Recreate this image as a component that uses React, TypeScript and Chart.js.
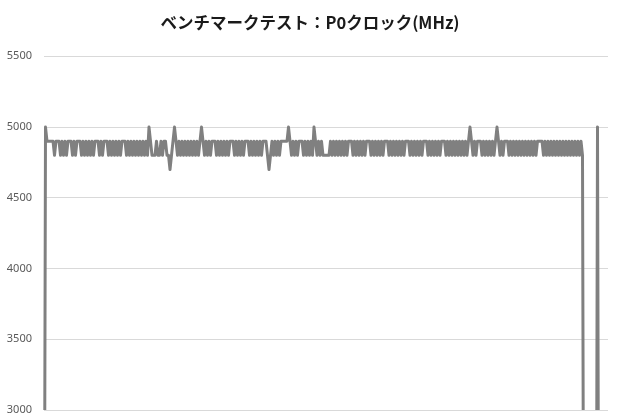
import React, { useEffect, useRef } from "react";
import { Chart, registerables } from "chart.js";

Chart.register(...registerables);

const TITLE = "ベンチマークテスト：P0クロック(MHz)";

// P0 clock samples (MHz); readings below 3000 are idle values clipped by the axis
const clockMHz: number[] = [
  800, 5000, 4900, 4900, 4900, 4900, 4900, 4800, 4900, 4900, 4900, 4800, 4900, 4800, 4900, 4800, 4900, 4900, 4900, 4800,
  4900, 4800, 4900, 4900, 4900, 4800, 4900, 4800, 4900, 4800, 4900, 4800, 4900, 4800, 4900, 4900, 4900, 4800, 4900, 4800,
  4900, 4900, 4900, 4800, 4900, 4800, 4900, 4800, 4900, 4800, 4900, 4800, 4900, 4900, 4900, 4800, 4900, 4800, 4900, 4800,
  4900, 4800, 4900, 4800, 4900, 4800, 4900, 4800, 4900, 4800, 5000, 4900, 4800, 4800, 4800, 4900, 4800, 4800, 4900, 4800,
  4900, 4900, 4800, 4800, 4700, 4800, 4900, 5000, 4900, 4800, 4900, 4800, 4900, 4800, 4900, 4800, 4900, 4800, 4900, 4800,
  4900, 4800, 4900, 4800, 4900, 5000, 4900, 4800, 4900, 4800, 4900, 4800, 4900, 4900, 4900, 4800, 4900, 4800, 4900, 4800,
  4900, 4800, 4900, 4800, 4900, 4900, 4900, 4800, 4900, 4800, 4900, 4800, 4900, 4800, 4900, 4900, 4900, 4800, 4900, 4800,
  4900, 4800, 4900, 4800, 4900, 4800, 4900, 4900, 4900, 4800, 4700, 4800, 4900, 4800, 4900, 4800, 4900, 4800, 4900, 4900,
  4900, 4900, 4900, 5000, 4900, 4800, 4900, 4800, 4900, 4800, 4900, 4900, 4900, 4800, 4900, 4800, 4900, 4800, 4900, 4800,
  5000, 4900, 4800, 4900, 4800, 4900, 4800, 4800, 4800, 4800, 4800, 4900, 4800, 4900, 4800, 4900, 4800, 4900, 4800, 4900,
  4800, 4900, 4800, 4900, 4900, 4900, 4800, 4900, 4800, 4900, 4800, 4900, 4800, 4900, 4800, 4900, 4900, 4900, 4800, 4900,
  4800, 4900, 4800, 4900, 4800, 4900, 4800, 4900, 4900, 4900, 4800, 4900, 4800, 4900, 4800, 4900, 4800, 4900, 4800, 4900,
  4800, 4900, 4900, 4900, 4800, 4900, 4800, 4900, 4800, 4900, 4800, 4900, 4800, 4900, 4900, 4900, 4800, 4900, 4800, 4900,
  4800, 4900, 4800, 4900, 4800, 4900, 4900, 4900, 4800, 4900, 4800, 4900, 4800, 4900, 4800, 4900, 4800, 4900, 4800, 4900,
  4800, 4900, 4800, 4900, 5000, 4900, 4800, 4900, 4800, 4900, 4900, 4900, 4800, 4900, 4800, 4900, 4800, 4900, 4800, 4900,
  4800, 4900, 5000, 4900, 4800, 4900, 4800, 4900, 4900, 4900, 4800, 4900, 4800, 4900, 4800, 4900, 4800, 4900, 4800, 4900,
  4800, 4900, 4800, 4900, 4800, 4900, 4800, 4900, 4800, 4900, 4900, 4900, 4900, 4800, 4900, 4800, 4900, 4800, 4900, 4800,
  4900, 4800, 4900, 4800, 4900, 4800, 4900, 4800, 4900, 4800, 4900, 4800, 4900, 4800, 4900, 4800, 4900, 4800, 4900, 4800,
  800, 800, 800, 800, 800, 800, 800, 800, 800, 5000, 800, 800, 800, 800, 800, 800, 800,
];

const sampleLabels: string[] = clockMHz.map((_, i) => String(i + 1));

const Y_MIN = 3000;
const Y_MAX = 5500;
const Y_STEP = 500;

export default function App() {
  const canvasRef = useRef<HTMLCanvasElement | null>(null);

  useEffect(() => {
    if (!canvasRef.current) return;
    const chart = new Chart(canvasRef.current, {
      type: "line",
      data: {
        labels: sampleLabels,
        datasets: [
          {
            label: "P0",
            data: clockMHz,
            yAxisID: "y",
            borderColor: "#808080",
            backgroundColor: "#808080",
            borderWidth: 3,
            borderJoinStyle: "round",
            borderCapStyle: "round",
            pointRadius: 0,
            tension: 0,
            fill: false,
          },
        ],
      },
      options: {
        animation: false,
        responsive: false,
        layout: { padding: { left: 0, right: 0, top: 0, bottom: 10 } },
        plugins: {
          legend: { display: false },
          tooltip: { enabled: false },
          title: {
            display: true,
            text: TITLE,
            color: "#1a1a1a",
            font: { family: "'Noto Sans CJK JP', 'Noto Sans', sans-serif", size: 16.5, weight: "bold" },
            padding: { top: 13, bottom: 23.5 },
          },
        },
        scales: {
          x: { display: false, offset: false },
          y: {
            min: Y_MIN,
            max: Y_MAX,
            border: { display: false },
            grid: { color: "#d9d9d9", lineWidth: 1, drawTicks: false },
            ticks: {
              stepSize: Y_STEP,
              padding: 12,
              color: "#595959",
              font: { family: "'Noto Sans', sans-serif", size: 11 },
              callback: (v: any) => String(v),
            },
            afterFit: (scale: any) => {
              scale.width = 44;
              scale.paddingTop = 0;
              scale.paddingBottom = 0;
            },
          },
          yRight: {
            position: "right",
            display: true,
            border: { display: false },
            grid: { display: false, drawOnChartArea: false, drawTicks: false },
            ticks: { display: false },
            afterFit: (scale: any) => {
              scale.width = 12;
              scale.paddingTop = 0;
              scale.paddingBottom = 0;
            },
          },
        },
      },
    });
    return () => chart.destroy();
  }, []);

  return (
    <div style={{ position: "fixed", left: 0, top: 0, width: 620, height: 420, background: "#fff" }}>
      <canvas ref={canvasRef} width={620} height={420} style={{ display: "block" }} />
    </div>
  );
}
